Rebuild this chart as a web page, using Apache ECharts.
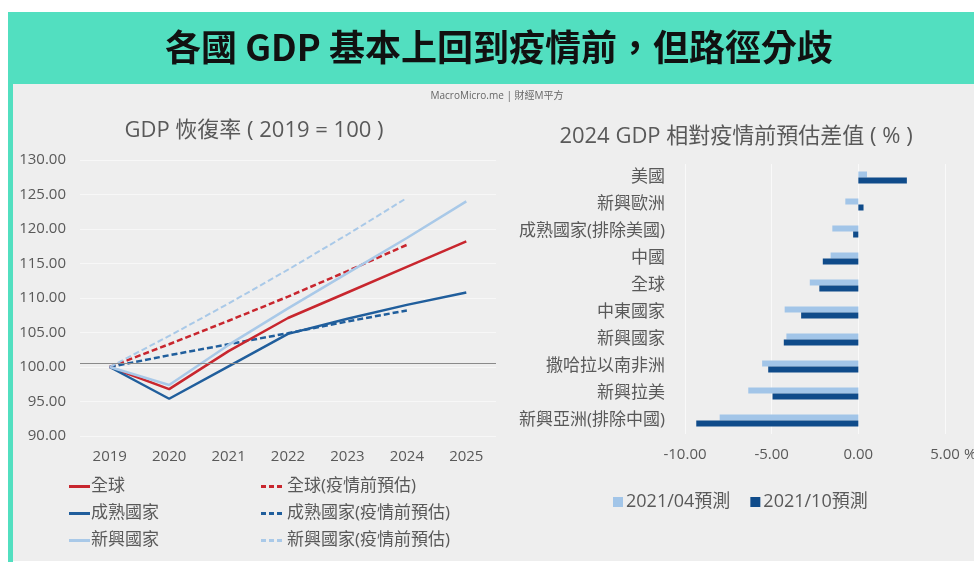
<!DOCTYPE html>
<html><head><meta charset="utf-8">
<script src="https://cdn.jsdelivr.net/npm/echarts@6/dist/echarts.min.js"></script>
<style>html,body{margin:0;padding:0;background:#fff;}#c{width:974px;height:563px;}</style>
</head><body><div id="c"></div>
<script>
// ---- data ----
const years = ['2019','2020','2021','2022','2023','2024','2025'];
const globalGDP   = [100, 96.8, 102.3, 107.1, 110.8, 114.5, 118.2];
const advancedGDP = [100, 95.4, 100.1, 104.8, 107.0, 109.0, 110.8];
const emergingGDP = [100, 97.4, 103.2, 108.5, 113.6, 118.7, 124.0];
const globalPre   = [100, 103.3, 106.7, 110.2, 113.9, 117.7, null];
const advancedPre = [100, 101.7, 103.3, 104.9, 106.6, 108.2, null];
const emergingPre = [100, 104.5, 109.2, 114.1, 119.2, 124.5, null];
const baseline = 100.6;

const regions = ['美國','新興歐洲','成熟國家(排除美國)','中國','全球','中東國家','新興國家','撒哈拉以南非洲','新興拉美','新興亞洲(排除中國)'];
const apr2021 = [0.5, -0.75, -1.5, -1.6, -2.8, -4.25, -4.15, -5.55, -6.35, -8.0];
const oct2021 = [2.8, 0.3, -0.3, -2.05, -2.25, -3.3, -4.3, -5.2, -4.95, -9.35];

const FONT = '"Open Sans", "Noto Sans CJK TC", sans-serif';
const CJK = '"Noto Sans CJK TC", sans-serif';
const TXT = '#595959';
const RED = '#c8262e', DARK = '#205e9c', LIGHT = '#a9c9e8';
const BAR_L = '#a2c5e8', BAR_D = '#0f4b8a';
const SOLID_ICON = 'path://M0,0h21v3h-21z';
const DASH_ICON = 'path://M0,0h5v3h-5z M8,0h5v3h-5z M16,0h5v3h-5z';

const chart = echarts.init(document.getElementById('c'), null, {renderer:'canvas'});
const lineS = (name, data, color, dashed, w) => ({
  name, type:'line', data, xAxisIndex:0, yAxisIndex:0, symbol:'none', smooth:false,
  lineStyle:{color, width:w, type: dashed ? [6,3] : 'solid'}, itemStyle:{color},
  z: dashed ? 3 : 4
});
const s1 = lineS('全球', globalGDP, RED, false, 2.5);
s1.markLine = {silent:true, symbol:'none', label:{show:false},
  lineStyle:{color:'#8a8a8a', width:1, type:'solid'}, data:[{yAxis: baseline}]};

chart.setOption({
  backgroundColor:'#ffffff',
  textStyle:{fontFamily:FONT},
  graphic:[
    {type:'rect', shape:{x:8,y:12,width:966,height:72}, style:{fill:'#52dfc0'}, z:-10},
    {type:'rect', shape:{x:8,y:84,width:5,height:478}, style:{fill:'#52dfc0'}, z:-10},
    {type:'rect', shape:{x:13,y:84,width:961,height:477}, style:{fill:'#eeeeee'}, z:-10},
    {type:'text', x:499, y:47, style:{text:'各國 GDP 基本上回到疫情前，但路徑分歧', fill:'#111', font:'bold 36px '+CJK, textAlign:'center', textVerticalAlign:'middle'}},
    {type:'text', x:497, y:96, style:{text:'MacroMicro.me | 財經M平方', fill:'#666', font:'10px '+FONT, textAlign:'center', textVerticalAlign:'middle'}},
    {type:'text', x:254, y:131, style:{text:'GDP 恢復率 ( 2019 = 100 )', fill:TXT, font:'22px '+FONT, textAlign:'center', textVerticalAlign:'middle'}},
    {type:'text', x:736, y:137, style:{text:'2024 GDP 相對疫情前預估差值 ( % )', fill:TXT, font:'22px '+FONT, textAlign:'center', textVerticalAlign:'middle'}},
    {type:'text', x:964, y:455, style:{text:'%', fill:TXT, font:'15px '+FONT, textAlign:'left', textVerticalAlign:'middle'}}
  ],
  grid:[
    {left:80, right:974-496, top:160, bottom:563-436},
    {left:685, right:974-945, top:164, bottom:563-434}
  ],
  xAxis:[
    {type:'category', gridIndex:0, data:years, boundaryGap:true,
     axisLine:{show:false}, axisTick:{show:false},
     axisLabel:{color:TXT, fontSize:15, margin:13, fontFamily:FONT}},
    {type:'value', gridIndex:1, min:-10, max:5, interval:5,
     axisLine:{show:false}, axisTick:{show:false},
     splitLine:{show:true, lineStyle:{color:'#f9f9f9', width:1}},
     axisLabel:{color:TXT, fontSize:15, margin:13, fontFamily:FONT, formatter:v=>v.toFixed(2)}}
  ],
  yAxis:[
    {type:'value', gridIndex:0, min:90, max:130, interval:5,
     axisLine:{show:false}, axisTick:{show:false},
     splitLine:{show:true, lineStyle:{color:'#f7f7f7', width:1}},
     axisLabel:{color:TXT, fontSize:15, margin:14, fontFamily:FONT, formatter:v=>v.toFixed(2)}},
    {type:'category', gridIndex:1, data:regions, inverse:true,
     axisLine:{show:false}, axisTick:{show:false},
     axisLabel:{color:TXT, fontSize:17, margin:20, fontFamily:FONT}}
  ],
  legend:[
    {orient:'vertical', left:64, top:472, itemWidth:21, itemHeight:3, itemGap:8, icon:SOLID_ICON,
     textStyle:{color:TXT, fontSize:17, lineHeight:19, padding:[0,0,0,-4], fontFamily:FONT},
     data:['全球','成熟國家','新興國家']},
    {orient:'vertical', left:256, top:472, itemWidth:21, itemHeight:3, itemGap:8, icon:DASH_ICON,
     textStyle:{color:TXT, fontSize:17, lineHeight:19, padding:[0,0,0,0], fontFamily:FONT},
     data:['全球(疫情前預估)','成熟國家(疫情前預估)','新興國家(疫情前預估)']},
    {orient:'horizontal', left:608, top:488, itemWidth:10, itemHeight:10, itemGap:20, icon:'rect',
     textStyle:{color:TXT, fontSize:18, padding:[0,0,0,-2], fontFamily:FONT},
     data:['2021/04預測','2021/10預測']}
  ],
  series:[
    s1,
    lineS('成熟國家', advancedGDP, DARK, false, 2.5),
    lineS('新興國家', emergingGDP, LIGHT, false, 2.5),
    lineS('全球(疫情前預估)', globalPre, RED, true, 2.5),
    lineS('成熟國家(疫情前預估)', advancedPre, DARK, true, 2.5),
    lineS('新興國家(疫情前預估)', emergingPre, LIGHT, true, 2),
    {name:'2021/04預測', type:'bar', xAxisIndex:1, yAxisIndex:1, data:apr2021, barWidth:6, barGap:'0%', itemStyle:{color:BAR_L}},
    {name:'2021/10預測', type:'bar', xAxisIndex:1, yAxisIndex:1, data:oct2021, barWidth:6, barGap:'0%', itemStyle:{color:BAR_D}}
  ]
});
</script></body></html>
